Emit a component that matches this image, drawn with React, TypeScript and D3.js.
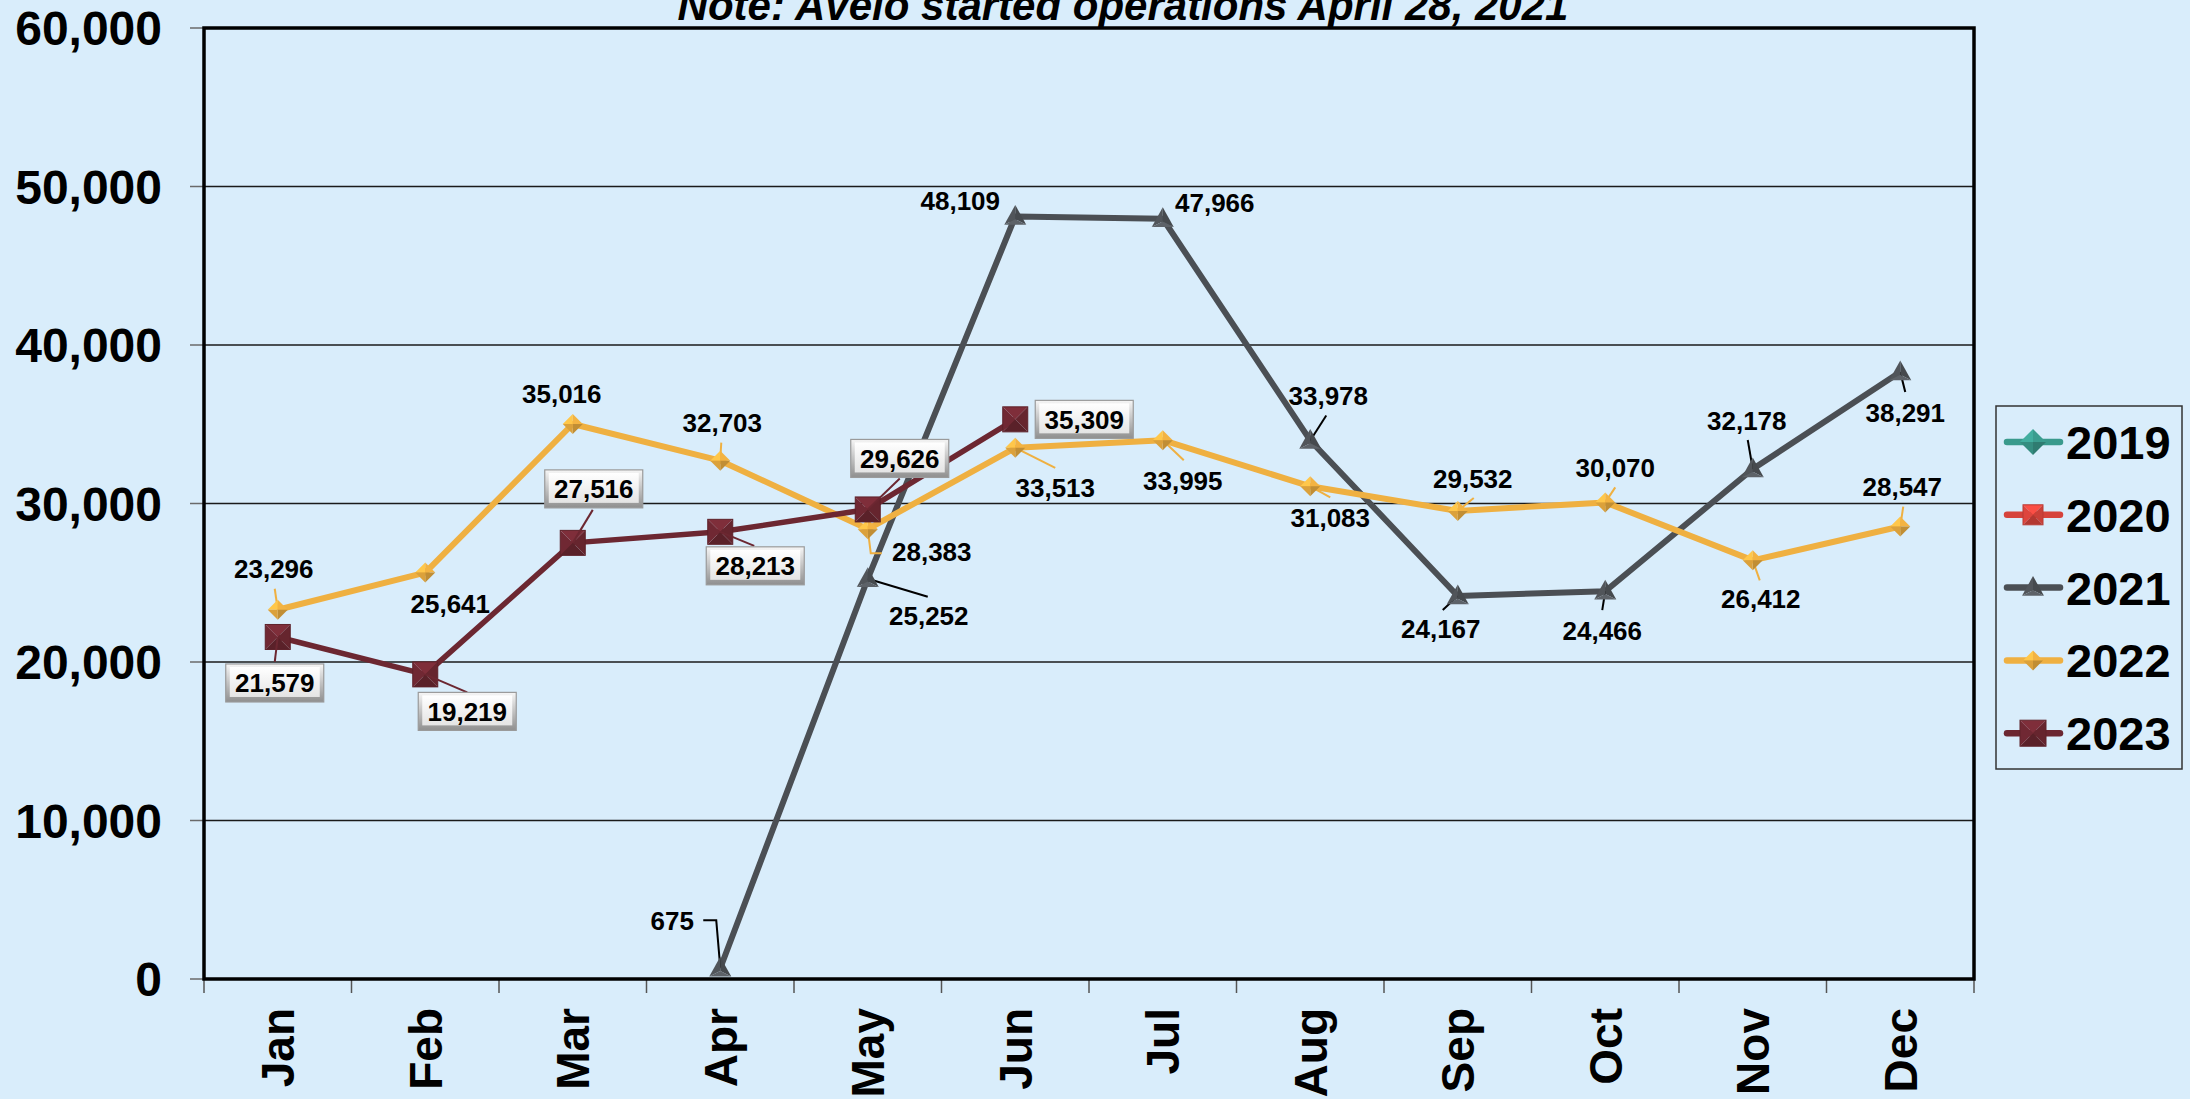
import React from 'react';
import * as d3 from 'd3';

const months = ["Jan", "Feb", "Mar", "Apr", "May", "Jun", "Jul", "Aug", "Sep", "Oct", "Nov", "Dec"];
const years = ["2019", "2020", "2021", "2022", "2023"];
const yTicks = [0, 10000, 20000, 30000, 40000, 50000, 60000];

const values2019 = [null, null, null, null, null, null, null, null, null, null, null, null];
const values2020 = [null, null, null, null, null, null, null, null, null, null, null, null];
const values2021 = [null, null, null, 675, 25252, 48109, 47966, 33978, 24167, 24466, 32178, 38291];
const values2022 = [23296, 25641, 35016, 32703, 28383, 33513, 33995, 31083, 29532, 30070, 26412, 28547];
const values2023 = [21579, 19219, 27516, 28213, 29626, 35309, null, null, null, null, null, null];

const title = "Note: Avelo started operations April 28, 2021";

// label placement (offset from point, px) and leader lines
const labelOff2021 = [null, null, null, [-48, -38], [61, 46], [-55, -6], [52, -7], [18, -35], [-17, 42], [-3, 49], [-6, -39], [5, 50]];
const leader2021 = [null, null, null, [[0, -1], [-4, -48], [-17, -48]], [[0, 0], [60, 18]], null, null, [[0, 0], [16, -25]], [[0, 0], [-15, 14]], [[0, 0], [-3, 19]], [[0, 0], [-5, -29]], [[0, 0], [5, 20]]];
const labelOff2022 = [[-4, -32], [25, 40], [-11, -21], [2, -29], [64, 32], [40, 49], [20, 50], [20, 41], [15, -23], [10, -25], [8, 48], [2, -31]];
const leader2022 = [[[0, 0], [-3, -21]], null, null, [[0, 0], [1, -18]], [[0, 0], [3, 24], [14, 24]], [[0, 0], [40, 20]], [[0, 0], [21, 20]], [[0, 0], [20, 11]], [[0, 0], [16, -13]], [[0, 0], [10, -15]], [[0, 0], [7, 20]], [[0, 0], [3, -20]]];
const labelOff2023 = [[-3, 46], [42, 37], [21, -54], [35, 34], [32, -51], [69, 0]];
const leader2023 = [[[0, 0], [-3, 25]], [[0, 0], [42, 18]], [[0, 0], [20, -33]], [[0, 0], [34, 14]], [[0, 0], [32, -31]], null];

const W = 2190, H = 1099;
const plot = { left: 204, right: 1974, top: 28, bottom: 979 };
const bg = "#d9edfb";
const font = "'Liberation Sans', Arial, sans-serif";

const colors = { "2019": "#3a9a8c", "2020": "#d6433b", "2021": "#4b4f54", "2022": "#efb041", "2023": "#6c2731" };
const fmt = d3.format(",");

function shade(c, k) {
  return k >= 0 ? d3.color(c).brighter(k).formatHex() : d3.color(c).darker(-k).formatHex();
}

function Diamond({ cx, cy, r, color }) {
  const t = [cx, cy - r], rt = [cx + r, cy], b = [cx, cy + r], l = [cx - r, cy], c = [cx, cy];
  const tri = (a, bb) => `M${a}L${bb}L${c}Z`;
  return (
    <g>
      <path d={tri(t, l)} fill={shade(color, 0.35)} />
      <path d={tri(t, rt)} fill={shade(color, 0.05)} />
      <path d={tri(rt, b)} fill={shade(color, -0.6)} />
      <path d={tri(b, l)} fill={shade(color, -0.25)} />
    </g>
  );
}

function Square({ cx, cy, r, color }) {
  const tl = [cx - r, cy - r], tr = [cx + r, cy - r], br = [cx + r, cy + r], bl = [cx - r, cy + r], c = [cx, cy];
  const tri = (a, b) => `M${a}L${b}L${c}Z`;
  return (
    <g>
      <path d={tri(tl, tr)} fill={shade(color, 0.45)} />
      <path d={tri(tr, br)} fill={shade(color, -0.15)} />
      <path d={tri(br, bl)} fill={shade(color, -0.5)} />
      <path d={tri(bl, tl)} fill={shade(color, 0.1)} />
      <rect x={cx - r} y={cy - r} width={2 * r} height={2 * r} fill="none" stroke={shade(color, -0.4)} strokeWidth={1} />
    </g>
  );
}

function Triangle({ cx, cy, r, color }) {
  const t = [cx, cy - r * 1.05], l = [cx - r, cy + r * 0.75], rt = [cx + r, cy + r * 0.75], c = [cx, cy + r * 0.25];
  return (
    <g>
      <path d={`M${t}L${l}L${c}Z`} fill={shade(color, 0.2)} />
      <path d={`M${t}L${rt}L${c}Z`} fill={shade(color, -0.2)} />
      <path d={`M${l}L${rt}L${c}Z`} fill={shade(color, 0.6)} />
    </g>
  );
}

const markerFor = { "2019": Diamond, "2020": Square, "2021": Triangle, "2022": Diamond, "2023": Square };

export default function App() {
  const x = d3.scaleBand().domain(months).range([plot.left, plot.right]).padding(0);
  const y = d3.scaleLinear().domain([0, 60000]).range([plot.bottom, plot.top]);
  const cx = (i) => x(months[i]) + x.bandwidth() / 2;

  const line = d3.line()
    .defined((d) => d != null)
    .x((d, i) => cx(i))
    .y((d) => y(d));

  const series = [
    { year: "2021", values: values2021, width: 6, size: 11 },
    { year: "2022", values: values2022, width: 6, size: 10 },
    { year: "2023", values: values2023, width: 5.5, size: 12.5 },
  ];

  const leaderPath = (i, v, pts) => pts.map((p, k) => `${k ? "L" : "M"}${cx(i) + p[0]},${y(v) + p[1]}`).join("");

  const legendRows = years.map((yr, k) => ({ yr, cy: 442 + k * 72.8 }));
  const legendSize = { "2019": 13, "2020": 10, "2021": 11, "2022": 10, "2023": 13 };

  return (
    <svg width={W} height={H} style={{ position: "absolute", left: 0, top: 0 }} fontFamily={font}>
      <defs>
        <linearGradient id="boxOuter" x1="0" x2="0" y1="0" y2="1">
          <stop offset="0%" stopColor="#f6f6f6" />
          <stop offset="100%" stopColor="#8f8f8f" />
        </linearGradient>
        <linearGradient id="boxInner" x1="0" x2="0" y1="0" y2="1">
          <stop offset="0%" stopColor="#ffffff" />
          <stop offset="100%" stopColor="#e4e4e4" />
        </linearGradient>
      </defs>
      <rect width={W} height={H} fill={bg} />

      {/* title, partly above the top edge as in the original */}
      <text x={1123} y={20} textAnchor="middle" fontSize={42} fontWeight="bold" fontStyle="italic">{title}</text>

      {/* grid + y axis */}
      {yTicks.map((t) => (
        <g key={t}>
          <line x1={plot.left} x2={plot.right} y1={y(t)} y2={y(t)} stroke="#1a1a1a" strokeWidth={1.3} />
          <line x1={190} x2={plot.left} y1={y(t)} y2={y(t)} stroke="#6a6a6a" strokeWidth={1.5} />
          <text x={162} y={y(t)} dy="0.36em" textAnchor="end" fontSize={48} fontWeight="bold">{fmt(t)}</text>
        </g>
      ))}

      {/* x ticks + labels */}
      {months.map((m, i) => (
        <g key={m}>
          <line x1={x(m)} x2={x(m)} y1={plot.bottom} y2={plot.bottom + 14} stroke="#555" strokeWidth={1.5} />
          <text transform={`translate(${cx(i)},1008) rotate(-90)`} dy="0.36em" textAnchor="end" fontSize={46} fontWeight="bold">{m}</text>
        </g>
      ))}
      <line x1={plot.right} x2={plot.right} y1={plot.bottom} y2={plot.bottom + 14} stroke="#555" strokeWidth={1.5} />

      <rect x={plot.left} y={plot.top} width={plot.right - plot.left} height={plot.bottom - plot.top} fill="none" stroke="#000" strokeWidth={3.5} />

      {/* lines */}
      {series.map((s) => (
        <path key={s.year} d={line(s.values)} fill="none" stroke={colors[s.year]} strokeWidth={s.width} strokeLinejoin="round" />
      ))}

      {/* leader lines */}
      {values2021.map((v, i) => v != null && leader2021[i] ? <path key={"l21" + i} d={leaderPath(i, v, leader2021[i])} fill="none" stroke="#000" strokeWidth={2} /> : null)}
      {values2022.map((v, i) => v != null && leader2022[i] ? <path key={"l22" + i} d={leaderPath(i, v, leader2022[i])} fill="none" stroke={colors["2022"]} strokeWidth={2} /> : null)}

      {/* markers */}
      {series.map((s) => {
        const M = markerFor[s.year];
        return s.values.map((v, i) => v == null ? null : <M key={s.year + i} cx={cx(i)} cy={y(v)} r={s.size} color={colors[s.year]} />);
      })}

      {values2023.map((v, i) => v != null && leader2023[i] ? <path key={"l23" + i} d={leaderPath(i, v, leader2023[i])} fill="none" stroke={colors["2023"]} strokeWidth={2} /> : null)}

      {/* plain data labels */}
      {values2021.map((v, i) => v == null ? null : (
        <text key={"t21" + i} x={cx(i) + labelOff2021[i][0]} y={y(v) + labelOff2021[i][1]} textAnchor="middle" fontSize={26} fontWeight="bold">{fmt(v)}</text>
      ))}
      {values2022.map((v, i) => v == null ? null : (
        <text key={"t22" + i} x={cx(i) + labelOff2022[i][0]} y={y(v) + labelOff2022[i][1]} textAnchor="middle" fontSize={26} fontWeight="bold">{fmt(v)}</text>
      ))}

      {/* boxed labels for 2023 */}
      {values2023.map((v, i) => {
        if (v == null) return null;
        const bx = cx(i) + labelOff2023[i][0], by = y(v) + labelOff2023[i][1];
        return (
          <g key={"b23" + i}>
            <rect x={bx - 49} y={by - 19} width={98} height={38} fill="url(#boxOuter)" stroke="#9a9a9a" strokeWidth={1.2} />
            <rect x={bx - 45} y={by - 16} width={90} height={30} fill="url(#boxInner)" />
            <text x={bx} y={by} dy="0.36em" textAnchor="middle" fontSize={26} fontWeight="bold">{fmt(v)}</text>
          </g>
        );
      })}

      {/* legend */}
      <rect x={1996} y={406} width={186} height={363} fill={bg} stroke="#333" strokeWidth={1.5} />
      {legendRows.map(({ yr, cy }) => {
        const M = markerFor[yr];
        return (
          <g key={yr}>
            <line x1={2007} x2={2060} y1={cy} y2={cy} stroke={colors[yr]} strokeWidth={6.5} strokeLinecap="round" />
            <M cx={2033} cy={cy} r={legendSize[yr]} color={colors[yr]} />
            <text x={2066} y={cy} dy="0.36em" fontSize={47} fontWeight="bold">{yr}</text>
          </g>
        );
      })}
    </svg>
  );
}
